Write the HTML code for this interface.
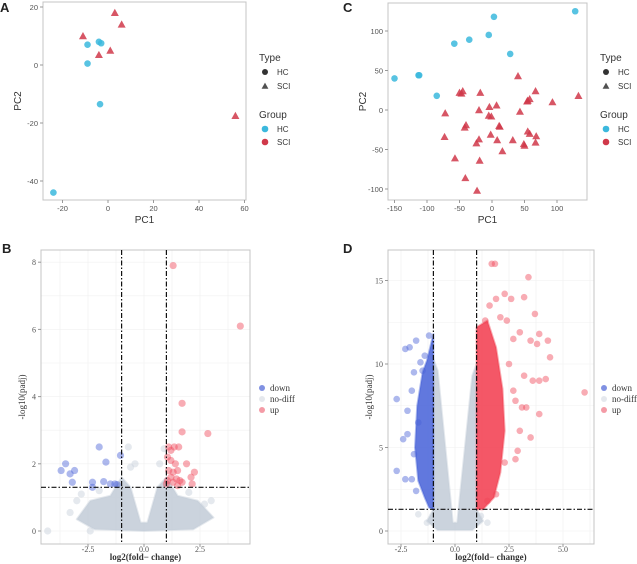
<!DOCTYPE html>
<html><head><meta charset="utf-8"><style>
html,body{margin:0;padding:0;background:#fff;overflow:hidden;}
svg{display:block;}
.tk{font-family:"Liberation Sans",sans-serif;font-size:7.5px;fill:#555;}
.tks{font-family:"Liberation Serif",serif;font-size:8px;fill:#555;}
.ttl{font-family:"Liberation Sans",sans-serif;font-size:10px;fill:#333;}
.lg{font-family:"Liberation Sans",sans-serif;font-size:8px;fill:#333;}
.lgs{font-family:"Liberation Serif",serif;font-size:9px;fill:#333;}
.pl{font-family:"Liberation Sans",sans-serif;font-size:13px;font-weight:bold;fill:#222;}
</style></head><body>
<svg id="fig" width="637" height="564" viewBox="0 0 637 564" xmlns="http://www.w3.org/2000/svg"></svg>
<script>
// ---- Panel A data ----
const aHcX=[-9,-4,-3,-9,-3.5,-24];
const aHcY=[7,8,7.5,0.5,-13.5,-44];
const aSciX=[3,6,-11,-4,1,56];
const aSciY=[18,14,10,3.5,5,-17.5];
const aXTicks=[-20,0,20,40,60];
const aYTicks=[20,0,-20,-40];
// ---- Panel C data ----
const cHcX=[-150,-113,-112,-85,-58,-35,-5,3,28,128];
const cHcY=[40,44,44,18,84,89,95,118,71,125];
const cSciX=[-50,-45,-18,40,-72,-20,-4,7,-5,-1,43,55,58,67,93,133,-42,-40,11,12,-73,-20,-24,-2,8,32,49,50,55,58,68,67,16,-57,-19,-41,-23,-47,54];
const cSciY=[22,24,22,43,-4,0,4,6,-7,-8,-2,12,14,24,10,18,-22,-19,-20,-21,-34,-37,-42,-31,-38,-38,-43,-45,-27,-30,-33,-41,-52,-61,-64,-86,-102,21,11];
const cXTicks=[-150,-100,-50,0,50,100];
const cYTicks=[100,50,0,-50,-100];
// ---- Panel B data ----
const bDownX=[-3.5,-3.7,-3.3,-3.1,-3.2,-2.0,-1.7,-2.3,-1.8,-1.5,-1.3,-1.2,-1.05,-2.3];
const bDownY=[2,1.8,1.7,1.8,1.45,2.5,2.05,1.45,1.47,1.4,1.4,1.38,2.25,1.3];
const bUpX=[1.3,4.3,1.7,1.7,2.85,1.1,1.2,1.35,1.55,1.05,1.2,1.4,1.9,1.1,1.3,1.5,2.25,1.2,1.45,2.1,1.05,1.3,1.6,1.7,2.15,1.0,1.5];
const bUpY=[7.9,6.1,3.8,2.95,2.9,2.5,2.4,2.5,2.5,2.2,2.1,2.0,2.0,1.8,1.75,1.8,1.75,1.6,1.55,1.6,1.5,1.45,1.5,1.45,1.4,1.4,1.35];
const bNoX=[-4.3,-2.4,-3.3,-0.7,-0.4,0.7,0.9,-0.6,-3.0,3.0,-2.8,2.7,-2.0,2.0];
const bNoY=[0,0,0.55,2.5,2.0,2.0,2.45,1.9,0.9,0.9,1.1,0.8,1.2,1.15];
const bCloudX=[-3.0,-2.4,-1.5,-1.0,-0.6,-0.15,0.15,0.6,1.0,1.5,2.4,3.1,2.2,0,-2.2];
const bCloudY=[0.35,0.9,1.05,1.6,1.3,0.25,0.25,1.3,1.6,1.05,0.9,0.4,0.05,0,0.05];
const bXTicks=[-2.5,0,2.5];
const bYTicks=[0,2,4,6,8];
// ---- Panel D data ----
const dDownX=[-2.7,-2.7,-2.3,-2.1,-1.8,-2.2,-2.3,-1.6,-1.2,-1.5,-2.0,-1.9,-2.2,-2.0,-1.8,-1.7,-1.4,-2.4,-1.9];
const dDownY=[7.9,3.6,10.9,11,11.4,5.8,3.1,10.1,11.7,9.6,8.4,4.6,7.2,3.1,2.4,6.5,10.5,5.5,9.5];
const dUpX=[1.7,1.85,3.4,2.3,3.2,1.9,2.6,3.7,2.7,3.0,3.9,4.3,3.5,3.8,4.4,3.2,3.6,3.9,4.2,2.7,6.0,3.1,3.9,3.0,3.5,2.9,2.8,2.3,2.4,2.1,1.6,1.4,1.9,1.5,2.5,2.8,3.3];
const dUpY=[16,16,15.2,14.2,14,13.9,13.9,13,11.5,11.9,11.8,11.4,11.4,11.2,10.4,9.3,9,9,9.1,8.4,8.3,7.4,7.0,6,5.6,4.8,4.3,4.1,12.6,12.8,13.5,12.6,2.2,1.8,10,7.8,7.4];
const dNoX=[-1.3,1.5,-1.7,1.2];
const dNoY=[0.5,0.5,1.0,0.9];
const dGreyX=[-1.3,-1.0,-1.0,-0.8,-0.1,0.1,0.8,1.0,1.0,1.3,0.8,-0.8];
const dGreyY=[0.6,1.3,10.3,9.6,0.5,0.5,9.3,10,1.3,0.6,0.05,0.05];
const dBlueX=[-1.0,-1.0,-1.3,-1.5,-1.75,-1.85,-1.7,-1.4,-1.2];
const dBlueY=[1.3,11.8,10.2,9.5,7.5,5,3,2,1.4];
const dRedX=[1.0,1.0,1.5,1.9,2.2,2.3,2.1,1.8,1.3];
const dRedY=[1.3,12.2,12.6,11,8.5,6,3.5,2,1.3];
const dXTicks=[-2.5,0,2.5,5];
const dYTicks=[0,5,10,15];

const svg=document.getElementById('fig');
const NS='http://www.w3.org/2000/svg';
function mk(tag,attrs,parent){const e=document.createElementNS(NS,tag);for(const k in attrs)e.setAttribute(k,attrs[k]);(parent||svg).appendChild(e);return e;}
function lin(d0,d1,r0,r1){return v=>r0+(v-d0)*(r1-r0)/(d1-d0);}
function txt(x,y,s,cls,anchor,parent){const t=mk('text',{x:x,y:y,class:cls,'text-anchor':anchor||'start'},parent);t.textContent=s;return t;}

function frame(g,x0,y0,x1,y1){const r=mk('rect',{x:x0,y:y0,width:x1-x0,height:y1-y0,fill:'none',stroke:'#c4c4c4','stroke-width':1},g);

}
function tri(g,cx,cy,s,col){return mk('polygon',{points:`${cx},${cy-s} ${cx-s},${cy+s*0.8} ${cx+s},${cy+s*0.8}`,fill:col,'fill-opacity':0.85},g);}

function pcaPanel(name,label,lx,box,xs,ys,xt,yt,hcX,hcY,sciX,sciY,legX){
  const g=mk('g',{});
  
  
  const [x0,y0,x1,y1]=box;
  const sx=lin(xs[0],xs[1],xs[2],xs[3]), sy=lin(ys[0],ys[1],ys[2],ys[3]);
  frame(g,x0,y0,x1,y1);
  const pl=txt(lx,12,label,'pl','start',g);
  
  
  xt.forEach(v=>{mk('line',{x1:sx(v),x2:sx(v),y1:y1,y2:y1+3,stroke:'#999'},g);
    const t=txt(sx(v),y1+11,String(v),'tk','middle',g);
    
    });
  yt.forEach(v=>{mk('line',{x1:x0-3,x2:x0,y1:sy(v),y2:sy(v),stroke:'#999'},g);
    const t=txt(x0-5,sy(v)+3,String(v),'tk','end',g);
    
    });
  const xl=txt((x0+x1)/2,y1+23,'PC1','ttl','middle',g);
  
  
  const yl=txt(0,0,'PC2','ttl','middle',g);
  yl.setAttribute('transform',`translate(${x0-22},${(y0+y1)/2}) rotate(-90)`);
  
  
  hcX.forEach((v,i)=>{const c=mk('circle',{cx:sx(v),cy:sy(hcY[i]),r:3.3,fill:'#3bb8dd','fill-opacity':0.85},g);
    
    });
  sciX.forEach((v,i)=>{const t=tri(g,sx(v),sy(sciY[i]),4,'#d0384a');
    
    });
  const lg=mk('g',{},g);
  
  
  txt(legX,61,'Type','ttl','start',lg);
  mk('circle',{cx:legX+6,cy:72,r:3,fill:'#333'},lg);txt(legX+18,75,'HC','lg','start',lg);
  tri(lg,legX+6,86,3.4,'#333');txt(legX+18,89,'SCI','lg','start',lg);
  txt(legX,118,'Group','ttl','start',lg);
  mk('circle',{cx:legX+6,cy:129,r:3.3,fill:'#3bb8dd'},lg);txt(legX+18,132,'HC','lg','start',lg);
  mk('circle',{cx:legX+6,cy:142,r:3.3,fill:'#d0384a'},lg);txt(legX+18,145,'SCI','lg','start',lg);
}

pcaPanel('pca-panel-a','A',0,[43,2,246,200],[0,20,108,153.5],[0,20,65,7],aXTicks,aYTicks,aHcX,aHcY,aSciX,aSciY,259);
pcaPanel('pca-panel-c','C',343,[388,3,587,200],[0,100,492,557],[0,100,110,31],cXTicks,cYTicks,cHcX,cHcY,cSciX,cSciY,600);

function volcPanel(name,label,lx,box,xs,ys,xt,yt,opt){
  const g=mk('g',{});
  
  
  const [x0,y0,x1,y1]=box;
  const sx=lin(xs[0],xs[1],xs[2],xs[3]), sy=lin(ys[0],ys[1],ys[2],ys[3]);
  const cpath=mk('clipPath',{id:name+'-clip'},g);
  mk('rect',{x:x0,y:y0,width:x1-x0,height:y1-y0},cpath);
  const inner=mk('g',{'clip-path':`url(#${name}-clip)`},g);
  const step=xt[1]-xt[0];
  for(let v=xt[0]-step;v<=xt[xt.length-1]+step;v+=step/2){mk('line',{x1:sx(v),x2:sx(v),y1:y0,y2:y1,stroke:'#f0f0f0','stroke-width':0.6},inner);}
  const ys2=yt[1]-yt[0];
  for(let v=yt[0]-ys2;v<=yt[yt.length-1]+ys2;v+=ys2/2){mk('line',{x1:x0,x2:x1,y1:sy(v),y2:sy(v),stroke:'#f0f0f0','stroke-width':0.6},inner);}
  frame(g,x0,y0,x1,y1);
  const pl=txt(lx,253,label,'pl','start',g);
  
  
  xt.forEach(v=>{mk('line',{x1:sx(v),x2:sx(v),y1:y1,y2:y1+3,stroke:'#999'},g);
    const t=txt(sx(v),y1+8,v===0?'0.0':(v%1===0?v.toFixed(1):String(v)),'tks','middle',g);
    
    });
  yt.forEach(v=>{mk('line',{x1:x0-3,x2:x0,y1:sy(v),y2:sy(v),stroke:'#999'},g);
    const t=txt(x0-5,sy(v)+3,String(v),'tks','end',g);
    
    });
  const xl=txt((x0+x1)/2,560,'log2(fold− change)','lgs','middle',g);
  xl.setAttribute('font-weight','bold');xl.setAttribute('font-size','10');
  
  
  const yl=txt(0,0,'-log10(padj)','lgs','middle',g);
  yl.setAttribute('font-size','10');
  yl.setAttribute('transform',`translate(${x0-16},${(y0+y1)/2}) rotate(-90)`);
  
  
  const poly=(X,Y,col,op,nm)=>{const p=mk('polygon',{points:X.map((v,i)=>sx(v)+','+sy(Y[i])).join(' '),fill:col,'fill-opacity':op,stroke:col,'stroke-opacity':op*0.5,'stroke-width':2,'stroke-linejoin':'round'},inner);
    
    };
  poly(opt.greyX,opt.greyY,'#c5ced9',0.9,'no-diff-cloud');
  if(opt.blueX)poly(opt.blueX,opt.blueY,'#4560d8',0.85,'down-cloud');
  if(opt.redX)poly(opt.redX,opt.redY,'#f23a4c',0.85,'up-cloud');
  const pts=(X,Y,col,nm)=>X.forEach((v,i)=>{const c=mk('circle',{cx:sx(v),cy:sy(Y[i]),r:opt.r,fill:col,'fill-opacity':0.45},inner);
    
    });
  pts(opt.noX,opt.noY,'#c5ced9','no-diff-point');
  pts(opt.downX,opt.downY,'#4a62d6','down-point');
  pts(opt.upX,opt.upY,'#f04858','up-point');
  [-1,1].forEach(v=>{const l=mk('line',{x1:sx(v),x2:sx(v),y1:y0,y2:y1,stroke:'#111','stroke-width':1.2,'stroke-dasharray':'5,2,1.5,2'},g);
    
    });
  const h=mk('line',{x1:x0,x2:x1,y1:sy(1.3),y2:sy(1.3),stroke:'#111','stroke-width':1.2,'stroke-dasharray':'5,2,1.5,2'},g);
  
  
  const lg=mk('g',{},g);
  
  
  const L=opt.legX;
  [['down','#4a62d6',388],['no-diff','#dadee6',399],['up','#f07080',410]].forEach(([s,c,y])=>{
    mk('circle',{cx:L,cy:y,r:3,fill:c,'fill-opacity':0.7},lg);txt(L+8,y+3,s,'lgs','start',lg);});
}

volcPanel('volcano-panel-b','B',2,[41,250,250,544],[0,1,144,166.4],[0,1,531,497.4],bXTicks,bYTicks,
  {greyX:bCloudX,greyY:bCloudY,noX:bNoX,noY:bNoY,downX:bDownX,downY:bDownY,upX:bUpX,upY:bUpY,r:3.6,legX:262});
volcPanel('volcano-panel-d','D',343,[388,250,594,544],[0,1,455,476.6],[0,1,531,514.3],dXTicks,dYTicks,
  {greyX:dGreyX,greyY:dGreyY,blueX:dBlueX,blueY:dBlueY,redX:dRedX,redY:dRedY,noX:dNoX,noY:dNoY,downX:dDownX,downY:dDownY,upX:dUpX,upY:dUpY,r:3.3,legX:604});
</script>
</body></html>
